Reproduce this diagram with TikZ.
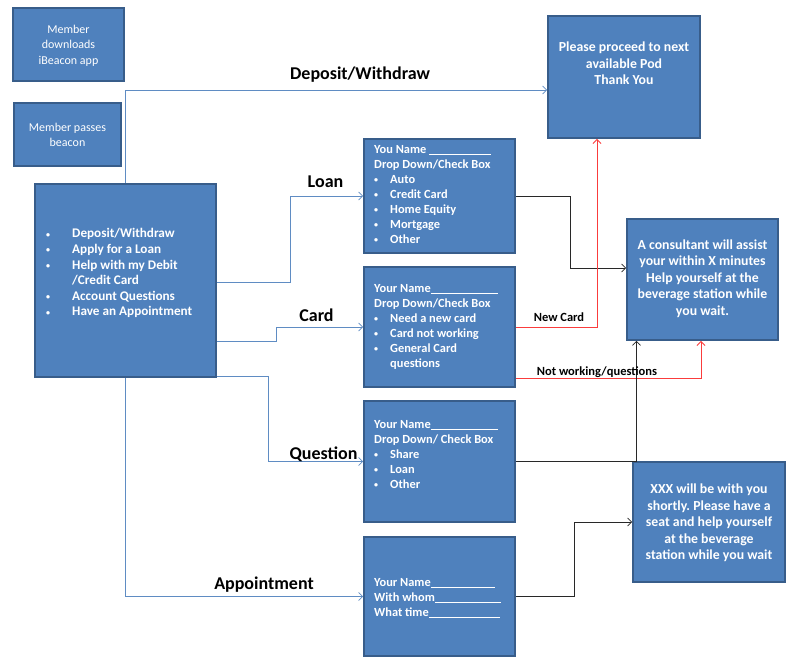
\documentclass[tikz,border=0pt]{standalone}
\usepackage{fontspec}
\setmainfont{Carlito}
\usetikzlibrary{arrows.meta}
\frenchspacing
\definecolor{boxfill}{RGB}{79,129,189}
\definecolor{boxedge}{RGB}{56,93,138}
\definecolor{bluel}{RGB}{95,140,195}
\definecolor{redl}{RGB}{250,60,60}
\definecolor{darkl}{RGB}{40,40,40}
\newcommand{\sbul}{\raisebox{0.15ex}{\fontsize{8}{8}\selectfont\textbullet}}
\newcommand{\blt}{\makebox[16pt][l]{\sbul}}
\newcommand{\mblt}{\makebox[26pt][l]{\sbul}}
\newcommand{\uline}[1]{\rule[-1.5pt]{#1}{0.5pt}}
\tikzset{
  box/.style={draw=boxedge, line width=1.6pt, fill=boxfill, inner sep=0pt},
  btext/.style={text=white, font=\fontsize{12.4}{15}\selectfont\bfseries, inner sep=0pt, align=left},
  ctext/.style={text=white, font=\fontsize{13.8}{16.6}\selectfont\bfseries, inner sep=0pt, align=center},
  mtext/.style={text=white, font=\fontsize{12}{15.5}\selectfont, inner sep=0pt, align=center},
  lbl/.style={font=\fontsize{18}{20}\selectfont\bfseries, inner sep=0pt},
  slbl/.style={font=\fontsize{12.5}{14}\selectfont\bfseries, inner sep=0pt},
  conn/.style={line width=0.8pt, -{Straight Barb[length=4pt,width=8pt]}},
  bconn/.style={conn, draw=bluel},
  rconn/.style={conn, draw=redl, line width=1pt},
  kconn/.style={conn, draw=darkl},
}
\begin{document}
\begin{tikzpicture}[x=1pt,y=-1pt]
\useasboundingbox (0,0) rectangle (790,664);
% boxes
\node[box, minimum width=111pt, minimum height=73pt] (dl) at (68.5,44.5) {};
\node[box, minimum width=107pt, minimum height=63pt] (pb) at (67.5,134.5) {};
\node[box, minimum width=181pt, minimum height=193pt] (main) at (125.5,280.5) {};
\node[box, minimum width=152pt, minimum height=122pt] (pod) at (624,77) {};
\node[box, minimum width=151pt, minimum height=114pt] (loan) at (439.5,196) {};
\node[box, minimum width=151pt, minimum height=120pt] (card) at (439.5,327) {};
\node[box, minimum width=151pt, minimum height=121pt] (ques) at (439.5,461.5) {};
\node[box, minimum width=151pt, minimum height=119pt] (appt) at (439.5,596.5) {};
\node[box, minimum width=151pt, minimum height=121pt] (cons) at (702.5,279.5) {};
\node[box, minimum width=152pt, minimum height=120pt] (xxx) at (709,522) {};
% texts
\node[mtext] (tdl) at (68.5,45.5) {Member\\downloads\\iBeacon app};
\node[mtext] (tpb) at (67.5,135) {Member passes\\beacon};
\node[btext, anchor=north west, font=\fontsize{13.2}{15.6}\selectfont\bfseries] (tmain) at (46,228.5) {\mblt Deposit/Withdraw\\
\mblt Apply for a Loan\\
\mblt Help with my Debit\\
\makebox[26pt]{}/Credit Card\\
\mblt Account Questions\\
\mblt Have an Appointment};
\node[ctext] (tpod) at (624,63.5) {Please proceed to next\\available Pod\\Thank You};
\node[btext, anchor=north west] (tloan) at (374,145) {You Name \uline{62pt}\\Drop Down/Check Box\\
\blt Auto\\\blt Credit Card\\\blt Home Equity\\\blt Mortgage\\\blt Other};
\node[btext, anchor=north west] (tcard) at (374,284) {Your Name\uline{67pt}\\Drop Down/Check Box\\
\blt Need a new card\\\blt Card not working\\\blt General Card\\\makebox[16pt]{}questions};
\node[btext, anchor=north west] (tques) at (374,420) {Your Name\uline{67pt}\\Drop Down/ Check Box\\
\blt Share\\\blt Loan\\\blt Other};
\node[btext, anchor=north west] (tappt) at (374,578) {Your Name\uline{64pt}\\With whom\uline{66pt}\\What time\uline{71pt}};
\node[ctext] (tcons) at (702.5,278.5) {A consultant will assist\\your within X minutes\\Help yourself at the\\beverage station while\\you wait.};
\node[ctext] (txxx) at (709,523) {XXX will be with you\\shortly. Please have a\\seat and help yourself\\at the beverage\\station while you wait};
% connectors
\draw[bconn] (main.north) |- ([yshift=-13pt]pod.west);
\draw[bconn] ([yshift=-2pt]main.east) -- ++(74,0) |- (loan.west);
\draw[bconn] ([yshift=-60.5pt]main.east) -- ++(60,0) |- (card.west);
\draw[bconn] ([yshift=1pt]main.south east) -- ++(52,0) |- (ques.west);
\draw[bconn] (main.south) |- (appt.west);
\draw[kconn] (loan.east) -- ++(55,0) |- ([yshift=11.5pt]cons.west);
\draw[rconn] (card.east) -| ([xshift=-27pt]pod.south);
\draw[rconn] ([yshift=-51pt]card.east) -| ([xshift=-1.5pt]cons.south);
\draw[kconn] (ques.east) -| ([xshift=-66pt]cons.south);
\draw[kconn] (appt.east) -- ++(59,0) |- (xxx.west);
% labels
\node[lbl] (ldep) at (360,75) {Deposit/Withdraw};
\node[lbl] (lloan) at (325.5,182) {Loan};
\node[lbl] (lcard) at (316.5,315) {Card};
\node[lbl] (lques) at (323.5,454) {Question};
\node[lbl] (lappt) at (264,585) {Appointment};
\node[slbl] (lnew) at (559,317) {New Card};
\node[slbl] (lnot) at (597,372) {Not working/questions};
\end{tikzpicture}
\end{document}
